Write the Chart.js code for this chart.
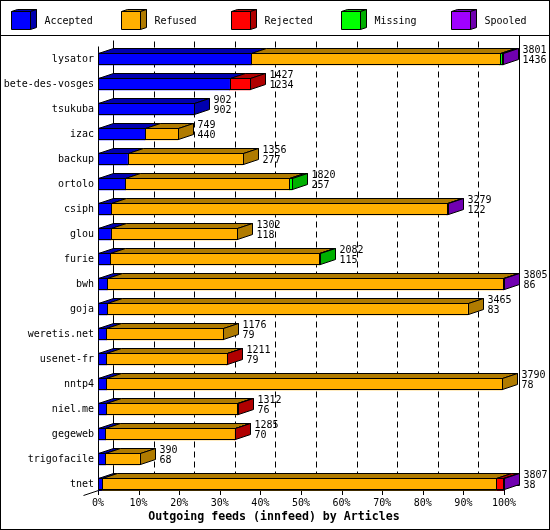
<!DOCTYPE html>
<html>
<head>
<meta charset="utf-8">
<script src="https://cdn.jsdelivr.net/npm/chart.js@4.4.1/dist/chart.umd.min.js"></script>
<style>
  html, body { margin: 0; padding: 0; background: #fff; }
  #wrap { width: 550px; height: 530px; }
</style>
</head>
<body>
<div id="wrap"><canvas id="feedsChart" width="550" height="530"></canvas></div>
<script>
// innfeed outgoing feeds, articles per peer
var feeds = ["lysator", "bete-des-vosges", "tsukuba", "izac", "backup", "ortolo", "csiph", "glou", "furie",
  "bwh", "goja", "weretis.net", "usenet-fr", "nntp4", "niel.me", "gegeweb", "trigofacile", "tnet"];
var totals   = [3801, 1427, 902, 749, 1356, 1820, 3279, 1302, 2082, 3805, 3465, 1176, 1211, 3790, 1312, 1285, 390, 3807];
var accepted = [1436, 1234, 902, 440, 277, 257, 122, 118, 115, 86, 83, 79, 79, 78, 76, 70, 68, 38];
var refused  = [2330, 0, 0, 309, 1079, 1538, 3150, 1184, 1959, 3714, 3382, 1097, 1127, 3712, 1231, 1210, 322, 3698];
var rejected = [0, 193, 0, 0, 0, 0, 0, 0, 0, 0, 0, 0, 5, 0, 5, 5, 0, 66];
var missing  = [25, 0, 0, 0, 0, 25, 0, 0, 8, 0, 0, 0, 0, 0, 0, 0, 0, 0];
var spooled  = [10, 0, 0, 0, 0, 0, 7, 0, 0, 5, 0, 0, 0, 0, 0, 0, 0, 5];
var xTicks = [0, 10, 20, 30, 40, 50, 60, 70, 80, 90, 100];

var seriesNames = ["Accepted", "Refused", "Rejected", "Missing", "Spooled"];
var seriesData = [accepted, refused, rejected, missing, spooled];
var frontColors = ["#0000ff", "#ffb000", "#ff0000", "#00ff00", "#a000ff"];
var darkColors = ["#0000b0", "#b07b00", "#b00000", "#00b000", "#7000b0"];

var maxTotal = Math.max.apply(null, totals);
var DX = 15, DY = 5; // 3d depth
var monoFont = "'DejaVu Sans Mono', 'Liberation Mono', monospace";

function px(v) { return Math.round(v) + 0.5; }

function poly(ctx, pts, fill) {
  ctx.beginPath();
  ctx.moveTo(pts[0][0], pts[0][1]);
  for (var i = 1; i < pts.length; i++) ctx.lineTo(pts[i][0], pts[i][1]);
  ctx.closePath();
  ctx.fillStyle = fill;
  ctx.fill();
  ctx.stroke();
}

var innPlugin = {
  id: "innPlugin",
  beforeDraw: function (chart) {
    var ctx = chart.ctx;
    ctx.save();
    ctx.fillStyle = "#fff";
    ctx.fillRect(0, 0, chart.width, chart.height);
    ctx.strokeStyle = "#000";
    ctx.lineWidth = 1;
    ctx.strokeRect(0.5, 0.5, chart.width - 1, chart.height - 1);
    ctx.beginPath();
    ctx.moveTo(0, 35.5);
    ctx.lineTo(chart.width, 35.5);
    ctx.stroke();

    // legend with little cubes
    ctx.font = "10px " + monoFont;
    ctx.textBaseline = "middle";
    ctx.textAlign = "left";
    for (var i = 0; i < seriesNames.length; i++) {
      var x = 11.5 + 110 * i, y = 11.5, w = 19, h = 18;
      poly(ctx, [[x, y], [x + 6, y - 2], [x + w + 6, y - 2], [x + w, y]], darkColors[i]);
      poly(ctx, [[x + w, y], [x + w + 6, y - 2], [x + w + 6, y + h - 2], [x + w, y + h]], darkColors[i]);
      poly(ctx, [[x, y], [x + w, y], [x + w, y + h], [x, y + h]], frontColors[i]);
      ctx.fillStyle = "#000";
      ctx.fillText(seriesNames[i], x + 33, y + 9.5);
    }
    ctx.restore();
  },
  beforeDatasetsDraw: function (chart) {
    var ctx = chart.ctx, xs = chart.scales.x, ys = chart.scales.y;
    var left = chart.chartArea.left, top = chart.chartArea.top;
    var floorY = Math.round(ys.getPixelForValue(feeds.length - 1)) + 6;
    ctx.save();
    ctx.strokeStyle = "#000";
    ctx.lineWidth = 1;
    // dashed grid on the back wall
    ctx.setLineDash([6, 4]);
    ctx.beginPath();
    for (var i = 1; i < xTicks.length - 1; i++) {
      var xb = px(xs.getPixelForValue(xTicks[i])) + DX;
      ctx.moveTo(xb, top - DY);
      ctx.lineTo(xb, floorY - DY);
    }
    ctx.stroke();
    ctx.setLineDash([]);
    ctx.beginPath();
    // back wall edges
    var bl = px(left) + DX, br = px(xs.getPixelForValue(100)) + DX;
    ctx.moveTo(bl, top - DY - 1); ctx.lineTo(bl, floorY - DY + 0.5);
    ctx.moveTo(br, 35.5); ctx.lineTo(br, floorY - DY + 0.5);
    ctx.moveTo(bl, floorY - DY + 0.5); ctx.lineTo(br, floorY - DY + 0.5);
    // front axis
    ctx.moveTo(px(left), top); ctx.lineTo(px(left), floorY + 0.5);
    ctx.lineTo(px(xs.getPixelForValue(100)), floorY + 0.5);
    ctx.moveTo(px(left) - DX, floorY + DY + 0.5); ctx.lineTo(px(left), floorY + 0.5);
    for (var j = 0; j < xTicks.length; j++) {
      var xf = px(xs.getPixelForValue(xTicks[j]));
      ctx.moveTo(xf, floorY); ctx.lineTo(xf, floorY + 5);
    }
    ctx.stroke();
    ctx.restore();
  },
  afterDatasetsDraw: function (chart) {
    var ctx = chart.ctx;
    ctx.save();
    ctx.strokeStyle = "#000";
    ctx.lineWidth = 1;
    for (var i = 0; i < feeds.length; i++) {
      var segs = [];
      for (var d = 0; d < seriesData.length; d++) {
        if (!seriesData[d][i]) continue;
        var el = chart.getDatasetMeta(d).data[i];
        segs.push({ x0: Math.min(el.base, el.x), x1: Math.max(el.base, el.x), y: el.y, h: el.height, d: d });
      }
      if (!segs.length) continue;
      var T = Math.round(segs[0].y - segs[0].h / 2) + 0.5;
      var B = Math.round(segs[0].y + segs[0].h / 2) - 0.5;
      segs.forEach(function (s) {
        var a = px(s.x0), b = px(s.x1);
        poly(ctx, [[a, T], [a + DX, T - DY], [b + DX, T - DY], [b, T]], darkColors[s.d]);
      });
      var last = segs[segs.length - 1], e = px(last.x1);
      poly(ctx, [[e, T], [e + DX, T - DY], [e + DX, B - DY], [e, B]], darkColors[last.d]);
      segs.forEach(function (s) {
        ctx.strokeRect(px(s.x0), T, px(s.x1) - px(s.x0), B - T);
      });
      // totals and accepted
      ctx.fillStyle = "#000";
      ctx.font = "10px " + monoFont;
      ctx.textAlign = "left";
      ctx.textBaseline = "middle";
      var cy = segs[0].y;
      ctx.fillText(String(totals[i]), e + DX + 4, cy - 9);
      ctx.fillText(String(accepted[i]), e + DX + 4, cy + 1.5);
    }
    ctx.restore();
  },
  afterDraw: function (chart) {
    var ctx = chart.ctx;
    ctx.save();
    ctx.fillStyle = "#000";
    ctx.font = "bold 11.6px " + monoFont;
    ctx.textAlign = "center";
    ctx.textBaseline = "middle";
    ctx.fillText("Outgoing feeds (innfeed) by Articles", 274, 516.5);
    ctx.restore();
  }
};

var ctx = document.getElementById("feedsChart").getContext("2d");

var feedsChart = new Chart(ctx, {
  type: "bar",
  data: {
    labels: feeds,
    datasets: seriesNames.map(function (name, k) {
      return {
        label: name,
        data: seriesData[k].map(function (v) { return v ? v / maxTotal * 100 : null; }),
        backgroundColor: frontColors[k],
        borderWidth: 0,
        barThickness: 12
      };
    })
  },
  options: {
    indexAxis: "y",
    responsive: false,
    animation: false,
    events: [],
    layout: { padding: { top: 46.5, right: 46, left: 0, bottom: 0 } },
    plugins: {
      legend: { display: false },
      tooltip: { enabled: false }
    },
    scales: {
      x: {
        stacked: true,
        min: 0,
        max: 100,
        grid: { display: false, drawTicks: false },
        border: { display: false },
        afterBuildTicks: function (s) { s.ticks = xTicks.map(function (v) { return { value: v }; }); },
        ticks: {
          color: "#000",
          font: { family: monoFont, size: 10 },
          padding: 1,
          maxRotation: 0,
          autoSkip: false,
          callback: function (v) { return v + "%"; }
        },
        afterFit: function (s) { s.height = 33.5; }
      },
      y: {
        stacked: true,
        grid: { display: false, drawTicks: false },
        border: { display: false },
        ticks: {
          color: "#000",
          font: { family: monoFont, size: 10 },
          padding: 4,
          autoSkip: false
        },
        afterFit: function (s) { s.width = 98; }
      }
    }
  },
  plugins: [innPlugin]
});
</script>
</body>
</html>
